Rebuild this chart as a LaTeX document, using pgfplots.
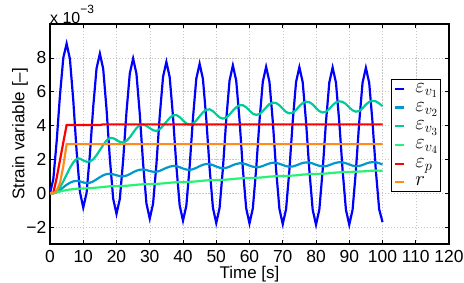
\documentclass[border=0pt]{standalone}
\usepackage{fontspec}
\setmainfont{Liberation Sans}
\usepackage{pgfplots}
\usepackage{pgfplotstable}
\pgfplotsset{compat=1.18}
\definecolor{cA}{rgb}{0,0,1}
\definecolor{cB}{rgb}{0,0.6,0.8}
\definecolor{cC}{rgb}{0,0.8,0.6}
\definecolor{cD}{rgb}{0.15,0.95,0.45}
\definecolor{cE}{rgb}{1,0,0}
\definecolor{cF}{rgb}{1,0.55,0.1}
\pgfplotstableread{
t v
0 0
1 0.84
2 3.05
3 5.79
4 8.00
5 8.84
6 7.92
7 5.49
8 2.50
9 0.08
10 -0.85
11 0.02
12 2.29
13 5.11
14 7.38
15 8.25
16 7.35
17 4.98
18 2.05
19 -0.32
20 -1.22
21 -0.34
22 1.95
23 4.79
24 7.08
25 7.96
26 7.06
27 4.69
28 1.77
29 -0.60
30 -1.50
31 -0.62
32 1.70
33 4.56
34 6.88
35 7.76
36 6.86
37 4.52
38 1.62
39 -0.72
40 -1.62
41 -0.74
42 1.58
43 4.45
44 6.77
45 7.65
46 6.75
47 4.40
48 1.49
49 -0.86
50 -1.76
51 -0.87
52 1.46
53 4.33
54 6.66
55 7.55
56 6.66
57 4.33
58 1.44
59 -0.89
60 -1.78
61 -0.90
62 1.42
63 4.27
64 6.59
65 7.47
66 6.58
67 4.26
68 1.39
69 -0.93
70 -1.82
71 -0.94
72 1.38
73 4.25
74 6.57
75 7.45
76 6.56
77 4.23
78 1.36
79 -0.97
80 -1.86
81 -0.97
82 1.35
83 4.22
84 6.54
85 7.43
86 6.54
87 4.22
88 1.35
89 -0.97
90 -1.86
91 -0.98
92 1.34
93 4.21
94 6.53
95 7.41
96 6.52
97 4.19
98 1.33
99 -0.95
100 -1.70
}\vone
\pgfplotstableread{
t v
0 0
1 0
2 0.05
3 0.18
4 0.35
5 0.5
6 0.62
7 0.7
8 0.73
9 0.7
10 0.64
11 0.6
12 0.62
13 0.7
14 0.82
15 0.95
16 1.06
17 1.13
18 1.15
19 1.12
20 1.06
21 1.01
22 1.0
23 1.04
24 1.13
25 1.24
26 1.33
27 1.39
28 1.4
29 1.37
30 1.31
31 1.27
32 1.27
33 1.32
34 1.41
35 1.5
36 1.57
37 1.61
38 1.6
39 1.54
40 1.46
41 1.4
42 1.38
43 1.42
44 1.5
45 1.6
46 1.68
47 1.73
48 1.72
49 1.66
50 1.58
51 1.51
52 1.48
53 1.5
54 1.57
55 1.66
56 1.73
57 1.77
58 1.76
59 1.71
60 1.63
61 1.57
62 1.54
63 1.55
64 1.61
65 1.69
66 1.76
67 1.8
68 1.79
69 1.74
70 1.67
71 1.6
72 1.57
73 1.58
74 1.64
75 1.72
76 1.79
77 1.82
78 1.81
79 1.76
80 1.68
81 1.62
82 1.59
83 1.6
84 1.66
85 1.74
86 1.8
87 1.83
88 1.82
89 1.77
90 1.7
91 1.63
92 1.6
93 1.61
94 1.67
95 1.75
96 1.81
97 1.84
98 1.83
99 1.77
100 1.7
}\vtwo
\pgfplotstableread{
t v
0 0
1 0.0
2 0.1
3 0.35
4 0.7
5 1.1
6 1.5
7 1.82
8 2.02
8.5 2.06
9 2.04
10 1.94
11 1.86
12 1.88
13 2.0
14 2.25
15 2.55
16 2.85
17 3.12
18 3.27
19 3.25
20 3.15
21 3.03
22 3.0
23 3.1
24 3.3
25 3.58
26 3.85
27 4.03
28 4.06
29 3.98
30 3.85
31 3.72
32 3.68
33 3.78
34 3.98
35 4.22
36 4.45
37 4.6
38 4.62
39 4.5
40 4.3
41 4.12
42 4.06
43 4.12
44 4.3
45 4.55
46 4.78
47 4.93
48 4.96
49 4.85
50 4.66
51 4.48
52 4.41
53 4.47
54 4.65
55 4.88
56 5.08
57 5.2
58 5.2
59 5.08
60 4.88
61 4.7
62 4.63
63 4.68
64 4.85
65 5.07
66 5.27
67 5.35
68 5.33
69 5.2
70 5.0
71 4.8
72 4.72
73 4.76
74 4.92
75 5.15
76 5.33
77 5.41
78 5.38
79 5.25
80 5.03
81 4.85
82 4.77
83 4.82
84 4.98
85 5.2
86 5.37
87 5.43
88 5.4
89 5.27
90 5.07
91 4.9
92 4.82
93 4.86
94 5.02
95 5.24
96 5.4
97 5.46
98 5.43
99 5.3
100 5.15
}\vthree
\pgfplotstableread{
t v
0 0
1 0
2 0.05
3 0.1
4 0.15
5 0.19
6 0.22
8 0.26
10 0.28
12 0.3
14 0.33
16 0.37
18 0.41
20 0.42
22 0.43
24 0.46
26 0.5
28 0.53
30 0.54
32 0.55
34 0.58
36 0.62
38 0.65
40 0.66
42 0.67
44 0.7
46 0.74
48 0.77
50 0.78
52 0.79
54 0.82
56 0.86
58 0.89
60 0.9
62 0.91
64 0.94
66 0.98
68 1.01
70 1.02
72 1.03
74 1.06
76 1.1
78 1.13
80 1.14
82 1.15
84 1.18
86 1.22
88 1.25
90 1.26
92 1.27
94 1.29
96 1.32
98 1.34
100 1.33
}\vfour
\begin{document}
\begin{tikzpicture}
\begin{axis}[name=ax, scale only axis, width=399bp, height=220bp,
  xmin=0, xmax=120, ymin=-3, ymax=10,
  xtick={0,10,...,120}, ytick={-2,0,2,4,6,8}, yticklabels={−2,0,2,4,6,8},
  /pgf/number format/assume math mode=true,
  tick align=inside, major tick length=4bp,
  tick style={black, line width=0.6pt},
  axis line style={line width=1.1pt},
  grid=major, major grid style={gray!45, line width=0.5pt, dash pattern=on 1.2pt off 1.8pt},
  tick label style={font=\fontsize{17.5}{17.5}\selectfont},
  xticklabel style={inner sep=0pt, yshift=-6bp},
  yticklabel style={inner sep=0pt, xshift=-3.5bp},
  label style={font=\fontsize{17}{17}\selectfont},
  xlabel={Time [s]}, ylabel={Strain variable [–]},
  xlabel style={at={(axis description cs:0.5,-0.098)}, anchor=north, inner sep=0pt},
  ylabel style={at={(axis description cs:-0.0551,0.5)}, anchor=south, inner sep=0pt},
  legend cell align=left,
  legend image code/.code={\draw[#1, line width=2.2pt] (0bp,0bp) -- (9.3bp,0bp);},
  legend style={at={(0.8546,0.75)}, anchor=north west, draw=black, line width=1pt, fill=white,
    inner xsep=2bp, inner ysep=0pt, row sep=0pt,
    font=\fontsize{22}{22}\selectfont,
    nodes={inner xsep=0pt, inner ysep=0pt, text height=13bp, text depth=5.7bp}},
]
\addplot[cA, line width=2.2pt] table[x=t,y=v] {\vone};
\addlegendentry{\hspace{10.5bp}$\varepsilon_{v_1}$\hspace{4bp}}
\addplot[cB, line width=2.2pt] table[x=t,y=v] {\vtwo};
\addlegendentry{\hspace{10.5bp}$\varepsilon_{v_2}$\hspace{4bp}}
\addplot[cC, line width=2.2pt] table[x=t,y=v] {\vthree};
\addlegendentry{\hspace{10.5bp}$\varepsilon_{v_3}$\hspace{4bp}}
\addplot[cD, line width=2.2pt] table[x=t,y=v] {\vfour};
\addlegendentry{\hspace{10.5bp}$\varepsilon_{v_4}$\hspace{4bp}}
\addplot[cE, line width=2.2pt] coordinates {(0,0) (1,0.02) (2,0.9) (3,1.95) (4,3.0) (5,4.03) (15,4.03) (16,4.07) (100,4.07)};
\addlegendentry{\hspace{10.5bp}$\varepsilon_{p}$}
\addplot[cF, line width=2.2pt] coordinates {(0,0) (1,0) (2,0.15) (3,0.6) (4,1.6) (5,2.9) (100,2.9)};
\addlegendentry{\hspace{10.5bp}$r$}
\end{axis}
\node[anchor=base west, inner sep=0pt, font=\fontsize{16}{16}\selectfont] at (ax.north west) {x 10\raisebox{10.5bp}{\fontsize{12}{12}\selectfont −3}};
\pgfresetboundingbox
\path[use as bounding box] ([shift={(-50bp,-39bp)}]ax.south west) rectangle ([shift={(15bp,24bp)}]ax.north east);
\end{tikzpicture}
\end{document}
